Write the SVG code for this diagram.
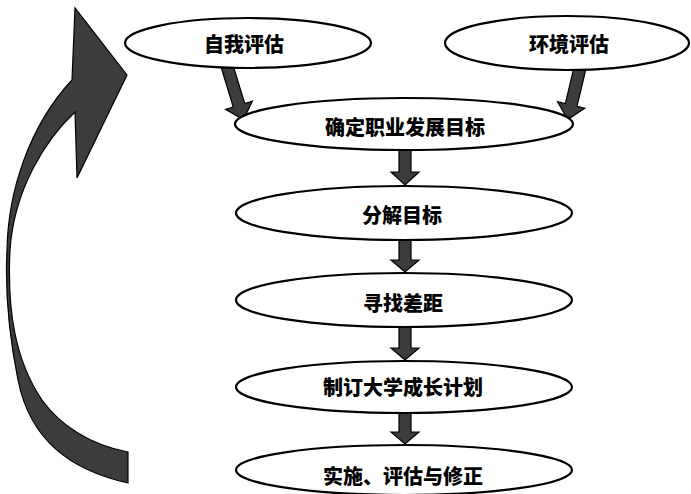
<svg xmlns="http://www.w3.org/2000/svg" width="691" height="494" viewBox="0 0 691 494">
<style>
.node ellipse{fill:#fff;stroke:#000;stroke-width:2.2}
.node text{font-family:"Noto Sans CJK SC","Noto Sans",sans-serif;font-weight:900;font-size:20px;fill:#000;text-anchor:middle;dominant-baseline:central}
.blk{fill:#3c3c3c;stroke:#000;stroke-width:1.2;stroke-linejoin:miter}
</style>
<rect width="691" height="494" fill="#fff"/>
<g id="connectors">
<path class="blk" d="M128,483 C70,470 30,440 18,380 C8,330 5,290 7,250 C8,190 30,125 72,80 L75,8 L127,75 L77,178 L75,112 C45,140 14,190 10,250 C7,310 15,360 42,400 C60,425 90,445 128,452 Z"/>
<polygon class="blk" transform="translate(227,66) rotate(-17)" points="-6,0 6,0 6,41 14,41 0,56 -14,41 -6,41"/>
<polygon class="blk" transform="translate(580,68) rotate(13.5)" points="-6,0 6,0 6,38 14,38 0,53 -14,38 -6,38"/>
<polygon class="blk" points="399,148 411,148 411,172 419,172 405,185 391,172 399,172"/>
<polygon class="blk" points="399,238 411,238 411,260 419,260 405,272 391,260 399,260"/>
<polygon class="blk" points="399,325 411,325 411,348 419,348 405,360 391,348 399,348"/>
<polygon class="blk" points="399,411 411,411 411,432 419,432 405,444 391,432 399,432"/>
</g>
<g id="n1" class="node"><ellipse cx="248" cy="43" rx="123" ry="25"/><text x="244" y="43">自我评估</text></g>
<g id="n2" class="node"><ellipse cx="567" cy="43" rx="122" ry="27"/><text x="569" y="43">环境评估</text></g>
<g id="n3" class="node"><ellipse cx="404" cy="124" rx="169" ry="26"/><text x="405" y="126">确定职业发展目标</text></g>
<g id="n4" class="node"><ellipse cx="404" cy="213" rx="168" ry="27"/><text x="402" y="214">分解目标</text></g>
<g id="n5" class="node"><ellipse cx="404" cy="300" rx="168" ry="27"/><text x="403" y="302">寻找差距</text></g>
<g id="n6" class="node"><ellipse cx="404" cy="387" rx="168" ry="26"/><text x="403" y="386">制订大学成长计划</text></g>
<g id="n7" class="node"><ellipse cx="404" cy="470" rx="168" ry="25"/><text x="403" y="475">实施、评估与修正</text></g>
</svg>
